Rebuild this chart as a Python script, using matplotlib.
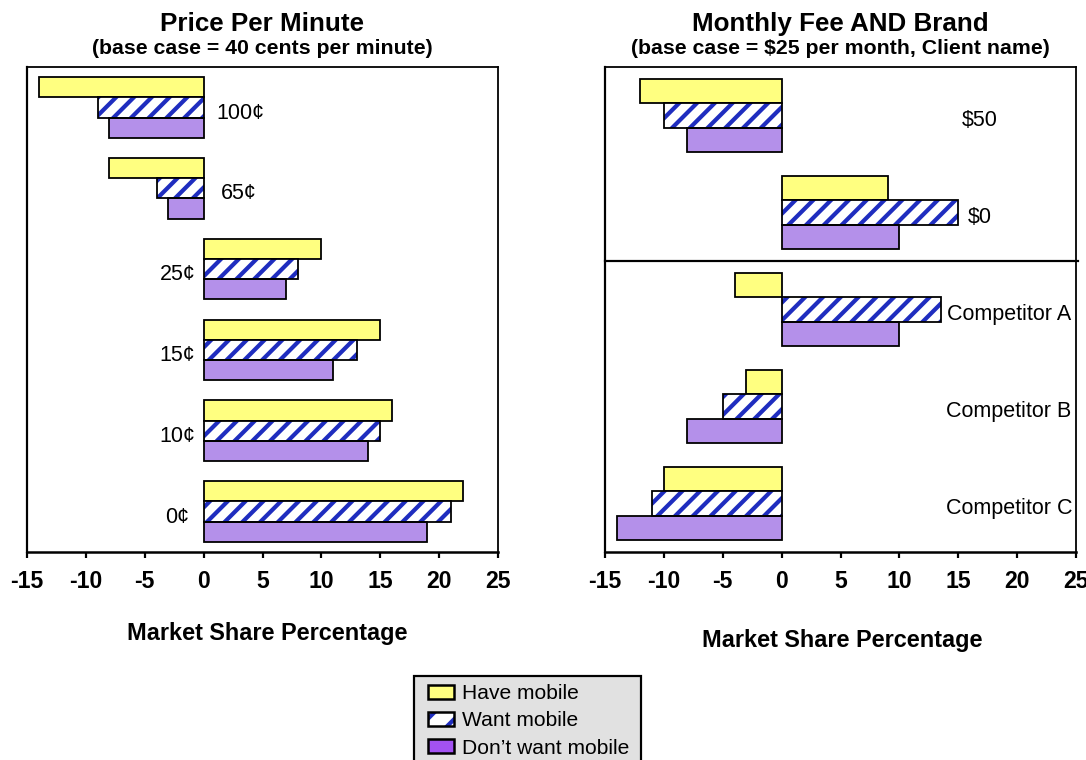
import numpy as np
import matplotlib
matplotlib.use("Agg")
import matplotlib.pyplot as plt
from matplotlib.patches import Patch
from matplotlib.legend_handler import HandlerPatch, HandlerTuple

# ---- data -------------------------------------------------------------
series_names = ["Have mobile", "Want mobile", "Don\u2019t want mobile"]

price_categories = ["100\u00a2", "65\u00a2", "25\u00a2", "15\u00a2", "10\u00a2", "0\u00a2"]
price_have = [-14, -8, 10, 15, 16, 22]
price_want = [-9, -4, 8, 13, 15, 21]
price_dont = [-8, -3, 7, 11, 14, 19]

fee_categories = ["$50", "$0", "Competitor A", "Competitor B", "Competitor C"]
fee_have = [-12, 9, -4, -3, -10]
fee_want = [-10, 15, 13.5, -5, -11]
fee_dont = [-8, 10, 10, -8, -14]

x_ticks = [-15, -10, -5, 0, 5, 10, 15, 20, 25]

# ---- style ------------------------------------------------------------
DPI = 160
W, H = 1086, 760


def px(v):
    """pixels -> points"""
    return v * 72.0 / DPI


YELLOW = "#FFFF80"
PURPLE = "#B490EA"
LEGEND_PURPLE = "#A352F2"
BLUE = "#1F2DBF"

plt.rcParams["font.family"] = ["Liberation Sans", "DejaVu Sans"]
plt.rcParams["axes.unicode_minus"] = False
plt.rcParams["hatch.linewidth"] = px(4.2)

fig = plt.figure(figsize=(W / DPI, H / DPI), dpi=DPI)

ax_l = fig.add_axes([27 / W, 1 - 552 / H, 471 / W, 485 / H])
ax_r = fig.add_axes([605 / W, 1 - 552 / H, 471 / W, 485 / H])


def draw_panel(ax, cats, have, want, dont):
    y = np.arange(len(cats))
    h = 0.25
    lw = px(1.8)
    ax.barh(y - h, have, height=h, color=YELLOW, edgecolor="black", linewidth=lw, zorder=2)
    ax.barh(y, want, height=h, color="white", edgecolor=BLUE, linewidth=0, hatch="///", zorder=2)
    ax.barh(y, want, height=h, color="none", edgecolor="black", linewidth=lw, zorder=3)
    ax.barh(y + h, dont, height=h, color=PURPLE, edgecolor="black", linewidth=lw, zorder=2)

    ax.set_xlim(x_ticks[0], x_ticks[-1])
    ax.set_ylim(len(cats) - 0.5, -0.5)
    ax.set_yticks([])
    ax.set_xticks(x_ticks)
    ax.set_xticklabels([str(t) for t in x_ticks], fontsize=px(23), fontweight="bold")
    ax.tick_params(axis="x", direction="out", length=px(6), width=px(2.2), pad=px(12))
    for s in ax.spines.values():
        s.set_linewidth(px(1.8))
    ax.spines["left"].set_linewidth(px(2.2))
    ax.spines["bottom"].set_linewidth(px(2.5))
    return y


y_l = draw_panel(ax_l, price_categories, price_have, price_want, price_dont)
y_r = draw_panel(ax_r, fee_categories, fee_have, fee_want, fee_dont)

# category labels
price_label_x = [1.1, 1.5, -0.7, -0.7, -0.7, -1.2]
for yy, lab, lx in zip(y_l, price_categories, price_label_x):
    ax_l.text(lx, yy + 0.07, lab, ha="left" if lx > 0 else "right", va="center",
              fontsize=px(21.5))

fee_label_x = [16.85, 16.85, 19.3, 19.3, 19.3]
for yy, lab, lx in zip(y_r, fee_categories, fee_label_x):
    ax_r.text(lx, yy + 0.05, lab, ha="center", va="center", fontsize=px(21.5))

# divider between the fee block and the brand block
ax_r.axhline(1.5, color="black", linewidth=px(2.2), zorder=4, clip_on=False,
             xmax=1.005)

# titles
for ax, title, sub in [
    (ax_l, "Price Per Minute", "(base case = 40 cents per minute)"),
    (ax_r, "Monthly Fee AND Brand", "(base case = $25 per month, Client name)"),
]:
    pos = ax.get_position()
    cx = (pos.x0 + pos.x1) / 2
    fig.text(cx, 1 - 31 / H, title, ha="center", va="baseline",
             fontsize=px(26), fontweight="bold")
    fig.text(cx, 1 - 54 / H, sub, ha="center", va="baseline",
             fontsize=px(21.3), fontweight="bold")

fig.text(267 / W, 1 - 640 / H, "Market Share Percentage", ha="center", va="baseline",
         fontsize=px(23.5), fontweight="bold")
fig.text(842 / W, 1 - 647 / H, "Market Share Percentage", ha="center", va="baseline",
         fontsize=px(23.5), fontweight="bold")

# legend
fs = 21
h_have = Patch(facecolor=YELLOW, edgecolor="black", linewidth=px(2.5))
h_want = (Patch(facecolor="white", edgecolor=BLUE, linewidth=0, hatch="//"),
          Patch(facecolor="none", edgecolor="black", linewidth=px(2.5)))
h_dont = Patch(facecolor=LEGEND_PURPLE, edgecolor="black", linewidth=px(2.5))

bpad = 0.38
xpad = 14 / fs - bpad
leg = fig.legend(
    [h_have, h_want, h_dont], series_names,
    loc="upper left",
    bbox_to_anchor=(414 / W, 1 - 677 / H, 227 / W, 0.001),
    mode="expand",
    fontsize=px(fs),
    frameon=True, fancybox=False, shadow=False,
    facecolor="#E1E1E1", edgecolor="black", framealpha=1,
    borderpad=bpad, borderaxespad=0,
    handlelength=26 / fs + xpad, handleheight=13 / fs,
    handletextpad=8 / fs, labelspacing=0.39,
    handler_map={Patch: HandlerPatch(xpad=xpad),
                 tuple: HandlerTuple(ndivide=1, pad=0, xpad=xpad)},
)
leg.get_frame().set_linewidth(px(2.2))

fig.savefig("out.png", dpi=DPI)
